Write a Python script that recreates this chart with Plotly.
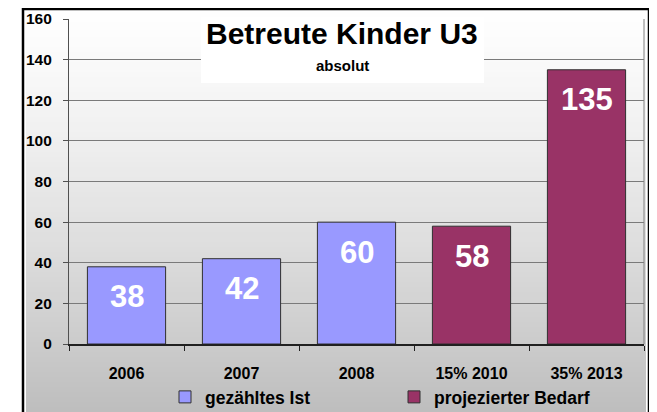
import plotly.graph_objects as go

categories = ["2006", "2007", "2008", "15% 2010", "35% 2013"]
ist_values = [38, 42, 60, None, None]
bedarf_values = [None, None, None, 58, 135]
series_names = ["gezähltes Ist", "projezierter Bedarf"]
series_colors = ["#9999FF", "#993366"]
y_ticks = [0, 20, 40, 60, 80, 100, 120, 140, 160]
title_text = "Betreute Kinder U3"
subtitle_text = "absolut"

# The page body has an 8px margin: work in screen pixels, convert to div pixels.
OFF = 8
W, H = 657 - OFF, 412 - OFF
PLOT_L, PLOT_R, PLOT_T, PLOT_B = 69, 644, 19, 344  # screen px
L = PLOT_L - OFF
R = W - (PLOT_R - OFF)
T = PLOT_T - OFF
B = H - (PLOT_B - OFF)
PW = W - L - R
PH = H - T - B


def px_x(p):
    return (p - PLOT_L) / PW


def px_y(p):
    return (PLOT_B - p) / PH


FONT = "Liberation Sans, Arial, sans-serif"

fig = go.Figure()
for name, vals, col in zip(series_names, [ist_values, bedarf_values], series_colors):
    fig.add_trace(go.Bar(
        x=categories, y=vals, name=name,
        marker=dict(color=col, line=dict(color="#303030", width=1)),
        hoverinfo="skip",
    ))

# value labels
for vals in [ist_values, bedarf_values]:
    for i, v in enumerate(vals):
        if v is None:
            continue
        fig.add_annotation(x=i, y=v, xref="x", yref="y", text=str(v),
                           showarrow=False, yanchor="middle", yshift=-30,
                           font=dict(family=FONT, size=31, color="white", weight="bold"))

shapes = []
# background gradient
n = 82
top_px, bot_px = 2, 412
for i in range(n):
    y0p = top_px + (bot_px - top_px) * i / n
    y1p = top_px + (bot_px - top_px) * (i + 1) / n
    t = (i + 0.5) / n
    c = int(round(255 - 66 * t ** 1.3))
    shapes.append(dict(type="rect", xref="paper", yref="paper",
                       x0=px_x(26), x1=px_x(646), y0=px_y(y1p + 0.5), y1=px_y(y0p),
                       fillcolor=f"rgb({c},{c},{c})", line=dict(width=0), layer="below"))
# plot area border (right)
shapes.append(dict(type="line", xref="paper", yref="paper", x0=1, x1=1, y0=0, y1=1,
                   line=dict(color="#808080", width=1), layer="above"))
# title box
shapes.append(dict(type="rect", xref="paper", yref="paper",
                   x0=px_x(201), x1=px_x(484), y0=px_y(83), y1=px_y(17),
                   fillcolor="white", line=dict(width=0), layer="above"))
# outer frame
shapes.append(dict(type="rect", xref="paper", yref="paper",
                   x0=px_x(23), x1=px_x(649), y0=px_y(416), y1=px_y(OFF + 1),
                   fillcolor="rgba(0,0,0,0)", line=dict(color="black", width=2.5), layer="above"))

fig.add_annotation(x=px_x(342), y=px_y(34), xref="paper", yref="paper", text=title_text,
                   showarrow=False, yanchor="middle",
                   font=dict(family=FONT, size=30, color="black", weight="bold"))
fig.add_annotation(x=px_x(342), y=px_y(66), xref="paper", yref="paper", text=subtitle_text,
                   showarrow=False, yanchor="middle",
                   font=dict(family=FONT, size=15, color="black", weight="bold"))

fig.update_layout(
    width=W, height=H,
    margin=dict(l=L, r=R, t=T, b=B, pad=0),
    paper_bgcolor="white",
    plot_bgcolor="rgba(0,0,0,0)",
    barmode="overlay",
    bargap=0.32,
    shapes=shapes,
    hovermode=False,
    showlegend=True,
    legend=dict(orientation="h",
                xref="container", x=(165 - OFF) / W, xanchor="left",
                yref="container", y=1 - (397 - OFF) / H, yanchor="middle",
                bgcolor="rgba(0,0,0,0)", entrywidth=184, entrywidthmode="pixels",
                font=dict(family=FONT, size=17.5, color="black", weight="bold"),
                tracegroupgap=0),
    xaxis=dict(type="category", categoryorder="array", categoryarray=categories,
               range=[-0.5, len(categories) - 0.5], automargin=False,
               showgrid=False, showline=True, linecolor="#202020", linewidth=1.5,
               ticks="outside", tickson="boundaries", ticklen=5, tickcolor="#202020",
               ticklabelstandoff=14, tickangle=0,
               tickfont=dict(family=FONT, size=16, color="black", weight="bold"),
               fixedrange=True),
    yaxis=dict(range=[0, 160], tickvals=y_ticks, showgrid=True, gridcolor="#7a7a7a",
               gridwidth=1, showline=True, linecolor="#505050", linewidth=1.2,
               ticks="outside", ticklen=5, tickcolor="#505050", zeroline=False,
               ticklabelstandoff=8, automargin=False,
               tickfont=dict(family=FONT, size=15.5, color="black", weight="bold"),
               fixedrange=True),
)

fig.write_html("out.html")
